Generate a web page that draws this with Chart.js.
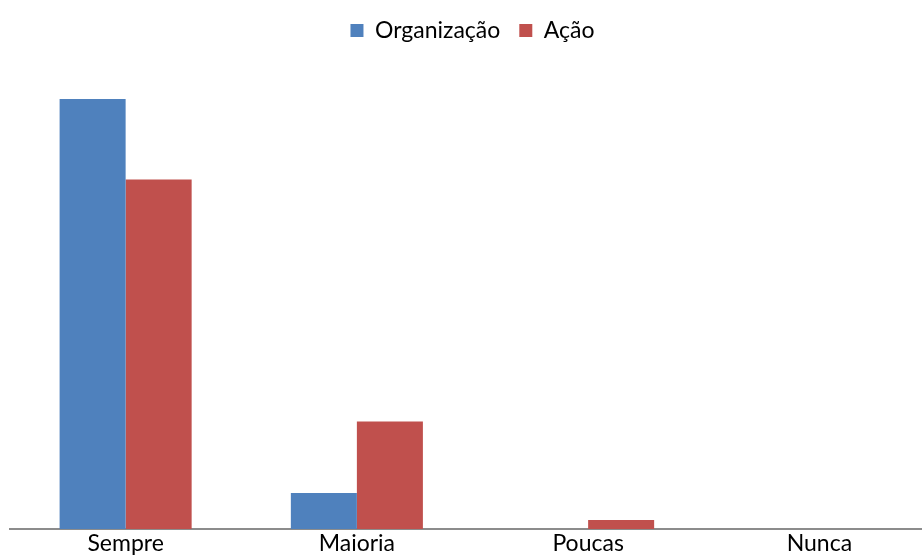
<!DOCTYPE html>
<html>
<head>
<meta charset="utf-8">
<script src="https://cdn.jsdelivr.net/npm/chart.js@4/dist/chart.umd.min.js"></script>
<style>
    html, body { margin: 0; padding: 0; background: #fff; overflow: hidden; }
    #wrap { width: 935px; height: 559px; }
</style>
</head>
<body>
<div id="wrap"><canvas id="chart"></canvas></div>
<script>
// Respostas por categoria
const categories = ['Sempre', 'Maioria', 'Poucas', 'Nunca'];
const organizacao = [48, 4, 0, 0];
const acao = [39, 12, 1, 0];
const yMax = 50;

// extra space under the legend
const legendSpacer = {
    id: 'legendSpacer',
    beforeInit(chart) {
        const fit = chart.legend.fit;
        chart.legend.fit = function () {
            fit.bind(chart.legend)();
            this.height += 29;
        };
    }
};

const ctx = document.getElementById('chart');
new Chart(ctx, {
    type: 'bar',
    data: {
        labels: categories,
        datasets: [
            {
                label: 'Organização',
                data: organizacao,
                backgroundColor: '#4F81BD',
                categoryPercentage: 0.571,
                barPercentage: 1.0
            },
            {
                label: 'Ação',
                data: acao,
                backgroundColor: '#C0504D',
                categoryPercentage: 0.571,
                barPercentage: 1.0
            }
        ]
    },
    plugins: [legendSpacer],
    options: {
        responsive: true,
        maintainAspectRatio: false,
        animation: false,
        layout: { padding: { top: 0, left: 10, right: 0, bottom: 0 } },
        plugins: {
            legend: {
                position: 'top',
                labels: {
                    font: { family: 'Lato', size: 23 },
                    color: '#000',
                    boxWidth: 13,
                    boxHeight: 13,
                    padding: 19
                }
            },
            tooltip: { enabled: false }
        },
        scales: {
            x: {
                grid: { display: false, drawTicks: false },
                border: { display: true, color: '#8c8c8c', width: 2 },
                ticks: {
                    font: { family: 'Lato', size: 23, lineHeight: 0.7 },
                    color: '#000',
                    padding: 7
                }
            },
            y: {
                display: false,
                min: 0,
                max: yMax
            }
        }
    }
});
</script>
</body>
</html>
